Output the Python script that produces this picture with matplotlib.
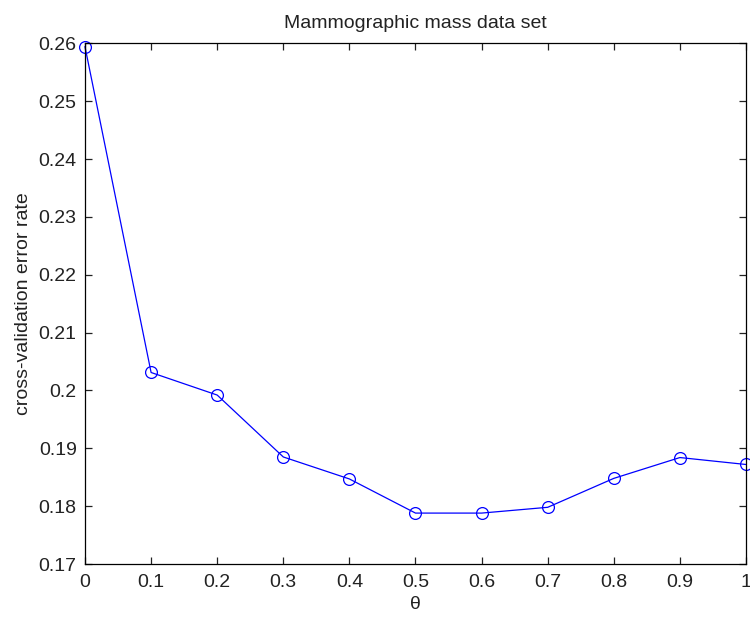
import matplotlib
matplotlib.use("Agg")
import matplotlib.pyplot as plt
import numpy as np

plt.rcParams["font.family"] = ["Liberation Sans", "DejaVu Sans"]

# ── Data ──────────────────────────────────────────────────────────────────────
theta = [0.0, 0.1, 0.2, 0.3, 0.4, 0.5, 0.6, 0.7, 0.8, 0.9, 1.0]
cv_error = [0.2594, 0.2031, 0.1992, 0.1885, 0.1847, 0.1788,
            0.1788, 0.1798, 0.1848, 0.1884, 0.1872]
xticks = [0, 0.1, 0.2, 0.3, 0.4, 0.5, 0.6, 0.7, 0.8, 0.9, 1]
xtick_labels = ["0", "0.1", "0.2", "0.3", "0.4", "0.5", "0.6", "0.7", "0.8", "0.9", "1"]
yticks = [0.17, 0.18, 0.19, 0.2, 0.21, 0.22, 0.23, 0.24, 0.25, 0.26]
ytick_labels = ["0.17", "0.18", "0.19", "0.2", "0.21", "0.22", "0.23", "0.24", "0.25", "0.26"]

# ── Plot ──────────────────────────────────────────────────────────────────────
fig = plt.figure(figsize=(7.5, 6.19), dpi=100)
ax = fig.add_axes([85 / 750, (619 - 564) / 619, (746 - 85) / 750, (564 - 43.3) / 619])

ax.plot(theta, cv_error, color="blue", linewidth=0.9, marker="o",
        markersize=8.5, markerfacecolor="none", markeredgecolor="blue",
        markeredgewidth=0.9, clip_on=False)

ax.set_xlim(0, 1)
ax.set_ylim(0.17, 0.26)
ax.set_xticks(xticks)
ax.set_xticklabels(xtick_labels)
ax.set_yticks(yticks)
ax.set_yticklabels(ytick_labels)
ax.tick_params(direction="in", length=5, width=0.9, top=True, right=True,
               labelsize=14, colors="#222222", pad=7)
ax.tick_params(axis="y", pad=6)
for sp in ax.spines.values():
    sp.set_linewidth(0.9)

ax.set_xlabel("θ", fontsize=14, labelpad=4, color="#222222")
ax.set_ylabel("cross-validation error rate", fontsize=14, labelpad=5, color="#222222")
ax.set_title("Mammographic mass data set", fontsize=14, pad=11, color="#222222")

fig.savefig("out.png", dpi=100)
